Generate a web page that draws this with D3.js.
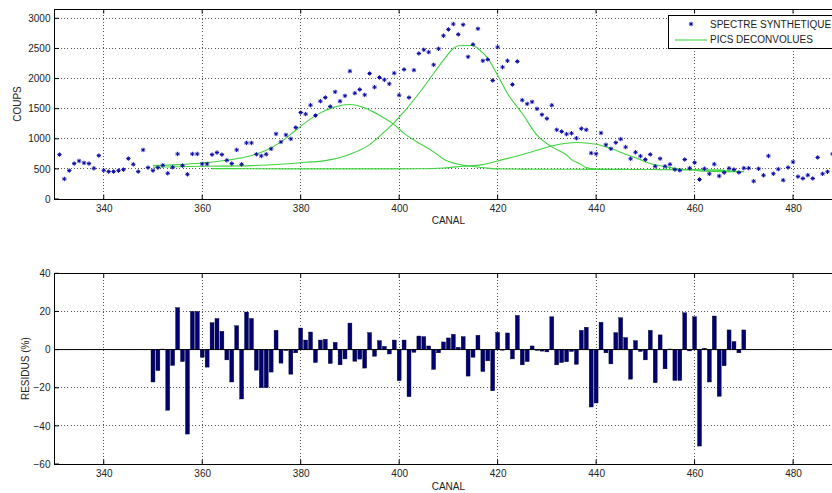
<!DOCTYPE html>
<html><head><meta charset="utf-8">
<script src="https://cdn.jsdelivr.net/npm/d3@7/dist/d3.min.js"></script>
<style>
html,body{margin:0;padding:0;background:#fff;overflow:hidden;}
text{font-family:"Liberation Sans",Arial,sans-serif;fill:#222;}
</style></head>
<body><svg id="c" width="832" height="493"></svg>
<script>
// ---------- DATA ----------
const spectreStart = 331; // first channel of the synthetic spectrum
const spectreCounts = [
 737,333,471,588,632,599,588,510,721,477,455,455,471,488,671,576,455,815,521,
 471,521,560,427,527,748,554,410,748,748,
 582,582,737,771,737,643,588,815,576,931,
 931,743,715,743,832,1081,948,1064,998,1186,
 1436,1410,1558,1386,1624,1685,1535,1779,1624,1713,
 2123,1757,1818,1729,2084,1857,2018,1979,1912,2090,
 1724,2151,1685,2140,2417,2478,2439,2228,2494,2711,
 2816,2905,2733,2894,2361,2567,2827,2295,2317,1968,
 2522,2190,2295,1901,2284,1641,1580,1613,1497,1400,
 1335,1557,1149,1120,1078,1092,1010,1168,1149,762,
 750,1096,900,834,936,995,862,668,776,712,
 656,740,543,670,543,576,488,476,656,512,
 604,324,502,418,579,382,438,510,490,440,
 512,512,296,502,394,715,420,496,312,524,
 615,371,341,396,341,690,418,452,748
];
const peak1Channels = [350,355,360,365,370,373,376,379,382,384,387,390,393,396,399,401,404,407,409,412,415,418,420,425,430,440,450,460,466];
const peak1Values   = [554,571,599,643,721,809,948,1142,1330,1430,1530,1569,1513,1391,1236,1090,931,782,665,576,540,512,500,496,495,492,490,485,482];
const peak2Channels = [350,360,370,376,381,385,390,394,397,399,401,404,407,409,411,412,415,416,418,420,422,425,428,431,434,435,437,438,440,445,450,460,470];
const peak2Values   = [527,543,554,576,610,637,743,903,1114,1270,1450,1752,2084,2306,2500,2544,2550,2500,2334,2056,1752,1419,1059,865,730,654,571,521,499,492,490,485,455];
const peak3Channels = [362,370,380,390,400,405,409,413,417,420,424,428,431,434,436,440,443,446,449,451,454,457,460,462,466,470];
const peak3Values   = [505,503,500,500,500,502,515,543,571,632,715,809,881,925,937,909,837,743,654,588,538,499,477,460,455,455];
const residuStart = 350;
const residus = [
 -17,-11,0.3,-31.8,-8.3,22,-6.3,-44.3,20,20,
 -4,-9.2,14.1,16.3,9.6,-5.4,-17,12.5,-25.9,19.7,
 16.3,-10.8,-20,-20,-11.8,10.1,-7.1,-0.5,-12.9,-1.7,
 11.3,5,9.2,-6.8,5,5.4,-7.3,3.8,-8,-4.9,
 13.9,-6.1,-5,-9.7,8.9,-3.5,4.7,1.7,-2.3,5,
 -16.3,5,-24.7,-1.4,7.1,6.8,1.9,-10.4,-1.7,4,
 6.1,8,1.2,6.8,-13.9,-4,7.5,-11.5,-5.9,-21.6,
 9,-0.3,8.7,-4.9,17.9,-8,-6.3,1.9,-0.4,-0.8,
 -1.2,17.2,-8,-6.8,-6.4,-1,-7.7,10.1,11.7,-30.1,
 -28,14.3,-1.7,-7.5,8.9,16.7,6.3,-15.5,4.7,-1,
 -5.4,10.1,-17.4,7.7,-10.1,0.3,-16.2,-16.2,19.3,-0.7,
 17.2,-50.6,0.7,-17,17.6,-24.5,-8.5,10.3,4.2,-1.7,10.3
];
const xTicks = [340,360,380,400,420,440,460,480];
const yTicksTop = [0,500,1000,1500,2000,2500,3000];
const yTicksBottom = [-60,-40,-20,0,20,40];
const legendLabels = ["SPECTRE SYNTHETIQUE","PICS DECONVOLUES"];

// ---------- DRAW ----------
const svg = d3.select("#c");
const L = 54.5, R = 842.3;
const x = d3.scaleLinear().domain([330,490]).range([L,R]);
const yT = d3.scaleLinear().domain([0,3155]).range([199,9]);
const yB = d3.scaleLinear().domain([-60,40]).range([464,273.3]);

const blue = "#0a0aa8", green = "#3fd33f", navy = "#00006e";
const fs = 10;
const fmt = d3.format("d");

function frame(y, yTicks, top, bottom, ylabel, ylabX){
  const g = svg.append("g");
  g.selectAll(".gx").data(xTicks).join("line")
    .attr("x1",d=>x(d)).attr("x2",d=>x(d)).attr("y1",top).attr("y2",bottom)
    .attr("stroke","#555").attr("stroke-width",1).attr("stroke-dasharray","1,2.2").attr("shape-rendering","crispEdges");
  g.selectAll(".gy").data(yTicks.filter(d=>y(d)>top+1 && y(d)<bottom-1)).join("line")
    .attr("x1",L).attr("x2",R).attr("y1",d=>y(d)).attr("y2",d=>y(d))
    .attr("stroke","#555").attr("stroke-width",1).attr("stroke-dasharray","1,2.2").attr("shape-rendering","crispEdges");
  const axB = d3.axisBottom(x).tickValues(xTicks).tickFormat(fmt).tickSize(0).tickPadding(6);
  const gxB = g.append("g").attr("transform",`translate(0,${bottom})`).call(axB);
  gxB.select(".domain").remove();
  gxB.selectAll("text").attr("font-size",fs).attr("fill","#222").attr("font-family","Liberation Sans, Arial, sans-serif");
  const axL = d3.axisLeft(y).tickValues(yTicks).tickFormat(fmt).tickSize(0).tickPadding(4);
  const gyL = g.append("g").attr("transform",`translate(${L},0)`).call(axL);
  gyL.select(".domain").remove();
  gyL.selectAll("text").attr("font-size",fs).attr("fill","#222").attr("font-family","Liberation Sans, Arial, sans-serif");
  const tk = 4.5;
  g.selectAll(".tb").data(xTicks).join("line")
    .attr("x1",d=>x(d)).attr("x2",d=>x(d)).attr("y1",bottom).attr("y2",bottom-tk).attr("stroke","#000");
  g.selectAll(".tt").data(xTicks).join("line")
    .attr("x1",d=>x(d)).attr("x2",d=>x(d)).attr("y1",top).attr("y2",top+tk).attr("stroke","#000");
  g.selectAll(".tl").data(yTicks).join("line")
    .attr("x1",L).attr("x2",L+tk).attr("y1",d=>y(d)).attr("y2",d=>y(d)).attr("stroke","#000");
  g.append("text").attr("transform",`translate(${ylabX},${(top+bottom)/2}) rotate(-90)`)
    .attr("text-anchor","middle").attr("font-size",fs).text(ylabel);
  return g;
}
function box(top,bottom){
  svg.append("rect").attr("x",L).attr("y",top).attr("width",R-L).attr("height",bottom-top)
    .attr("fill","none").attr("stroke","#000").attr("stroke-width",1).attr("shape-rendering","crispEdges");
}

// ---- top panel ----
frame(yT, yTicksTop, 9, 199, "COUPS", 21);
const line = d3.line().x(d=>x(d[0])).y(d=>yT(d[1])).curve(d3.curveMonotoneX);
[[peak1Channels,peak1Values],[peak2Channels,peak2Values],[peak3Channels,peak3Values]].forEach(([c,v])=>{
  svg.append("path").datum(c.map((ch,i)=>[ch,v[i]])).attr("d",line)
    .attr("fill","none").attr("stroke",green).attr("stroke-width",1.1);
});
const star = "M-2.2,0H2.2M0,-2.2V2.2M-1.5,-1.5L1.5,1.5M-1.5,1.5L1.5,-1.5";
svg.append("g").selectAll("path").data(spectreCounts).join("path")
  .attr("transform",(d,i)=>`translate(${x(spectreStart+i)},${yT(d)})`)
  .attr("d",star).attr("stroke",blue).attr("stroke-width",1).attr("fill","none");
box(9,199);
svg.append("text").attr("x",x(410)).attr("y",224).attr("text-anchor","middle").attr("font-size",fs).text("CANAL");

// legend
const lg = svg.append("g");
lg.append("rect").attr("x",668.5).attr("y",15.5).attr("width",200).attr("height",33)
  .attr("fill","#fff").attr("stroke","#000").attr("stroke-width",1);
lg.append("path").attr("transform","translate(691,24)").attr("d",star).attr("stroke",blue).attr("stroke-width",1);
lg.append("line").attr("x1",675).attr("x2",707).attr("y1",40).attr("y2",40).attr("stroke",green).attr("stroke-width",1.1);
lg.selectAll("text.lt").data(legendLabels).join("text")
  .attr("x",710).attr("y",(d,i)=>27.5+i*15.5).attr("font-size",fs).text(d=>d);

// ---- bottom panel ----
frame(yB, yTicksBottom, 273.3, 464, "RESIDUS (%)", 28.5);
const bw = 0.8*(x(1)-x(0));
svg.append("g").selectAll("rect").data(residus).join("rect")
  .attr("x",(d,i)=>x(residuStart+i)-bw/2).attr("width",bw)
  .attr("y",d=>Math.min(yB(d),yB(0))).attr("height",d=>Math.abs(yB(d)-yB(0)))
  .attr("fill",navy).attr("stroke","#000033").attr("stroke-width",0.4);
svg.append("line").attr("x1",L).attr("x2",R).attr("y1",yB(0)).attr("y2",yB(0)).attr("stroke","#000").attr("stroke-width",1);
box(273.3,464);
svg.append("text").attr("x",x(410)).attr("y",490).attr("text-anchor","middle").attr("font-size",fs).text("CANAL");
</script></body></html>
